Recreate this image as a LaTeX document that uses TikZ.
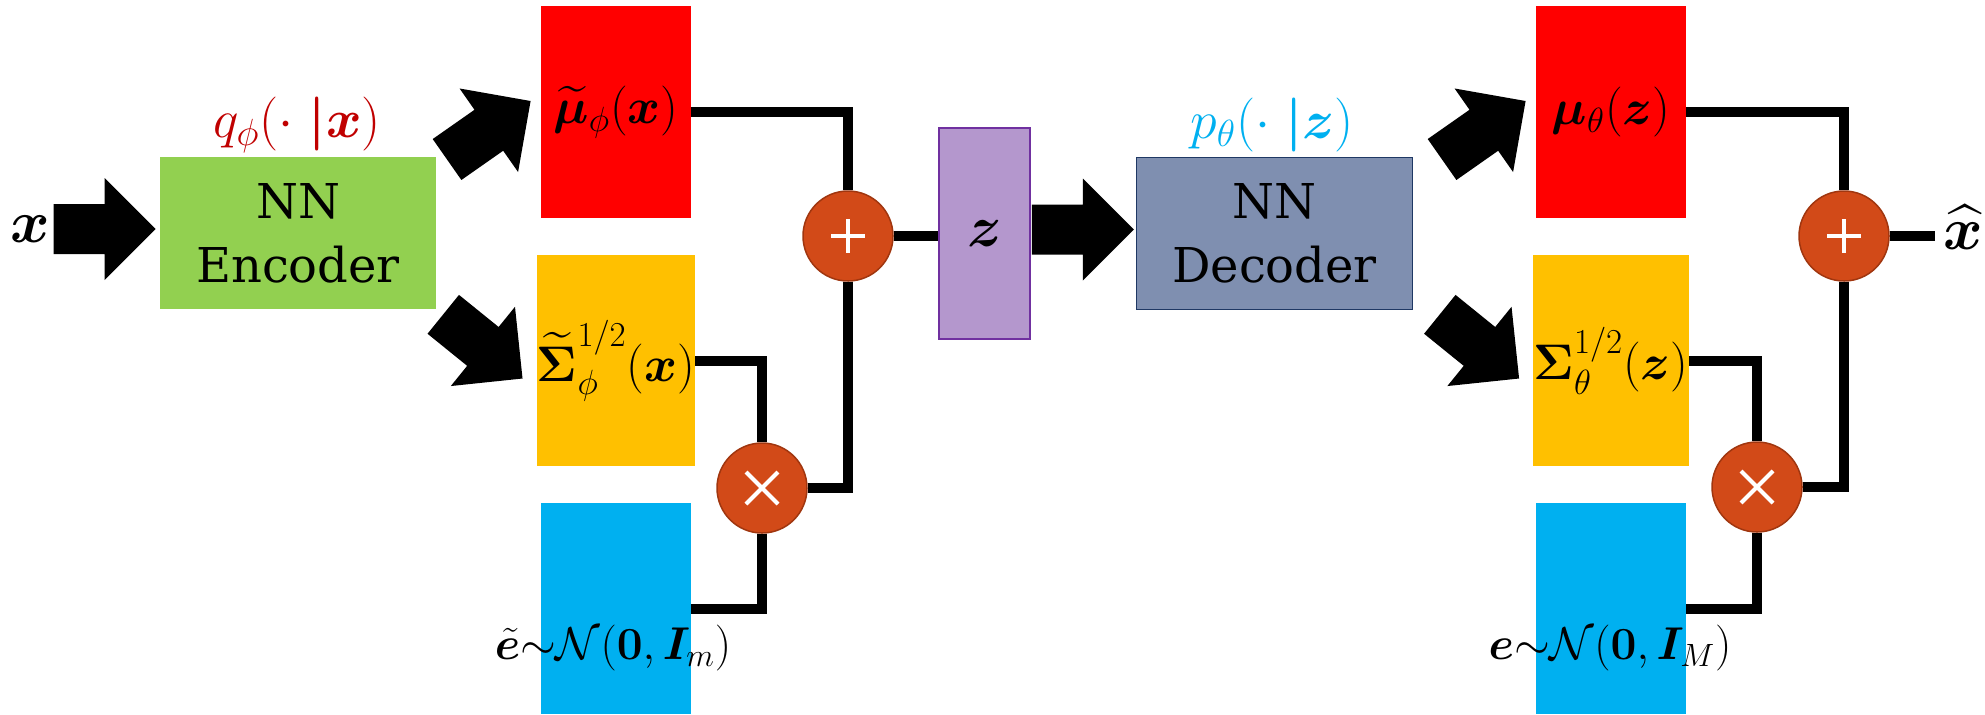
\RequirePackage{fix-cm}
\documentclass[tikz,border=0pt]{standalone}
\usepackage{amsmath, amssymb, bm}
\usepackage{fontspec}
\newfontfamily\nnfont{DejaVu Serif}
\usepackage{tikz}
\usetikzlibrary{positioning, calc}
\definecolor{boxred}{HTML}{FF0000}
\definecolor{boxorange}{HTML}{FFC000}
\definecolor{boxblue}{HTML}{00B0F0}
\definecolor{encgreen}{HTML}{92D050}
\definecolor{decgray}{HTML}{7F8FB0}
\definecolor{decborder}{HTML}{1F3864}
\definecolor{zpurple}{HTML}{B497CD}
\definecolor{zborder}{HTML}{7030A0}
\definecolor{opfill}{HTML}{D24A18}
\definecolor{opborder}{HTML}{A0360F}
\definecolor{qred}{HTML}{C00000}

\begin{document}
\begin{tikzpicture}[x=0.5pt, y=-0.5pt,
	mathtxt/.style={font=\fontsize{25}{28}\selectfont},
	bigtxt/.style={font=\fontsize{30}{32}\selectfont},
	condtxt/.style={font=\fontsize{27}{30}\selectfont},
	caja/.style={rectangle, inner sep=0pt, minimum width=75pt, minimum height=105.5pt, mathtxt},
	nn/.style={rectangle, inner sep=0pt, minimum width=138pt, minimum height=76pt, align=center,
		font=\nnfont\fontsize{24}{32}\selectfont},
	op/.style={circle, fill=opfill, draw=opborder, line width=0.75pt, minimum size=45pt, inner sep=0pt},
	linea/.style={line width=5pt, line join=miter},
	flecha/.pic={\fill (0,0) -- (-51,-51) -- (-51,-25) -- (-102,-25) -- (-102,25) -- (-51,25) -- (-51,51) -- cycle;}]
	\useasboundingbox (0,0) rectangle (1985,714);
	% codificador
	\node[bigtxt] (xin) at (30,229) {$\bm{x}$};
	\node[nn, fill=encgreen] (enc) at (298,233) {NN\\Encoder};
	\node[condtxt, text=qred] (qlab) at (297,125) {$q_{\phi}(\cdot\;\bm{|}\bm{x})$};
	\node[caja, fill=boxred, minimum height=106pt] (mu1) at (616,112) {$\widetilde{\bm{\mu}}_{\phi}(\bm{x})$};
	\node[caja, fill=boxorange] (sig1) at (616,360.5) {$\widetilde{\bm{\Sigma}}^{1/2}_{\phi}(\bm{x})$};
	\node[caja, fill=boxblue] (eps1) at (616,608.5) {};
	\node[font=\fontsize{23}{26}\selectfont] (elab1) at (613,648) {$\tilde{\bm{e}}{\sim}\mathcal{N}(\bm{0},\bm{I}_m)$};
	\node[op] (times1) at (762,488) {};
	\node[op] (plus1) at (848,236) {};
	% espacio latente
	\node[draw=zborder, fill=zpurple, line width=0.75pt, minimum width=45.5pt, minimum height=105.5pt,
		inner sep=0pt, font=\fontsize{29}{30}\selectfont] (zbox) at (984.5,233.5) {$\bm{z}$};
	% decodificador
	\node[nn, fill=decgray, draw=decborder, line width=0.75pt] (dec) at (1274.5,233.5) {NN\\Decoder};
	\node[condtxt, text=boxblue] (plab) at (1272,125) {$p_{\theta}(\cdot\;\bm{|}\bm{z})$};
	\node[caja, fill=boxred, minimum height=106pt] (mu2) at (1611,112) {$\bm{\mu}_{\theta}(\bm{z})$};
	\node[caja, fill=boxorange] (sig2) at (1611,360.5) {$\bm{\Sigma}^{1/2}_{\theta}(\bm{z})$};
	\node[caja, fill=boxblue] (eps2) at (1611,608.5) {};
	\node[font=\fontsize{23}{26}\selectfont] (elab2) at (1610,648) {$\bm{e}{\sim}\mathcal{N}(\bm{0},\bm{I}_M)$};
	\node[op] (times2) at (1757,487) {};
	\node[op] (plus2) at (1844,236) {};
	\coordinate (xout) at (1935,236);
	\node[bigtxt] (xhat) at (1963,227) {$\widehat{\bm{x}}$};
	% flechas gruesas
	\pic at ($(enc.west)+(-4,-4)$) {flecha};
	\pic[rotate=35] at ($(mu1.west)+(-10,-11)$) {flecha};
	\pic[rotate=-39] at ($(sig1.west)+(-14,18)$) {flecha};
	\pic at ($(dec.west)+(-2,-4)$) {flecha};
	\pic[rotate=35] at ($(mu2.west)+(-10,-11)$) {flecha};
	\pic[rotate=-39] at ($(sig2.west)+(-14,18)$) {flecha};
	% conexiones
	\foreach \s in {1,2} {
		\draw[linea] (mu\s.east) -| (plus\s.north);
		\draw[linea] (sig\s.east) -| (times\s.north);
		\draw[linea] (eps\s.east) -| (times\s.south);
		\draw[linea] (times\s.east) -| (plus\s.south);
		\draw[white, line width=2pt] ($(plus\s)+(-17,0)$) -- ($(plus\s)+(17,0)$);
		\draw[white, line width=2pt] ($(plus\s)+(0,-17)$) -- ($(plus\s)+(0,17)$);
		\draw[white, line width=2pt] ($(times\s)+(-16,-16)$) -- ($(times\s)+(16,16)$);
		\draw[white, line width=2pt] ($(times\s)+(-16,16)$) -- ($(times\s)+(16,-16)$);
	}
	\draw[linea] (plus1.east) -- (plus1.east -| zbox.west);
	\draw[linea] (plus2.east) -- (xout);
\end{tikzpicture}
\end{document}
